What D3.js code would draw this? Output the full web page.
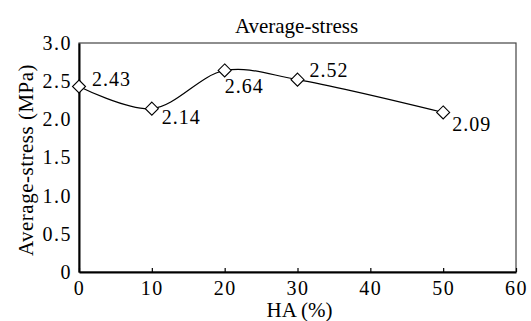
<!DOCTYPE html>
<html>
<head>
<meta charset="utf-8">
<script src="https://cdn.jsdelivr.net/npm/d3@7"></script>
<style>
  body { margin: 0; background: #fff; }
</style>
</head>
<body>
<div id="chart"></div>
<script>
var haValues = [0, 10, 20, 30, 50];
var stressValues = [2.43, 2.14, 2.64, 2.52, 2.09];
var xTicks = [0, 10, 20, 30, 40, 50, 60];
var yTicks = [0, 0.5, 1.0, 1.5, 2.0, 2.5, 3.0];
var yTickLabels = ["0", "0.5", "1.0", "1.5", "2.0", "2.5", "3.0"];
// where each value label sits relative to its point: [dx, dy]
var labelOffsets = [[13, -1], [10, 15], [0, 23], [12, -3], [9, 19]];

var width = 531;
var height = 321;
var margin = {top: 43, right: 15, bottom: 49, left: 79};
var serif = "'Liberation Serif', 'Times New Roman', Times, serif";

var svg = d3.select('#chart')
            .append('svg')
            .attr('width', width)
            .attr('height', height);

var x = d3.scaleLinear().domain([0, 60]).range([margin.left, width - margin.right]);
var y = d3.scaleLinear().domain([0, 3]).range([height - margin.bottom, margin.top]);

// frame (top and right)
svg.append('rect')
   .attr('x', x(0))
   .attr('y', y(3))
   .attr('width', x(60) - x(0))
   .attr('height', y(0) - y(3))
   .attr('fill', 'none')
   .attr('stroke', '#444')
   .attr('stroke-width', 1.2);

var xAxis = d3.axisBottom(x).tickValues(xTicks).tickSizeInner(-4).tickSizeOuter(0).tickPadding(9);
var gx = svg.append('g')
   .attr('transform', 'translate(0,' + y(0) + ')')
   .call(xAxis)
   .attr('font-family', serif)
   .attr('font-size', 20);
gx.select('.domain').attr('stroke-width', 2);
gx.selectAll('.tick line').attr('stroke-width', 1.2);
gx.selectAll('.tick text').attr('letter-spacing', 1.5);

var yAxis = d3.axisLeft(y).tickValues(yTicks)
              .tickFormat(function(d, i){ return yTickLabels[i]; })
              .tickSize(0).tickPadding(7);
var gy = svg.append('g')
   .attr('transform', 'translate(' + x(0) + ',0)')
   .call(yAxis)
   .attr('font-family', serif)
   .attr('font-size', 20);
gy.select('.domain').attr('stroke-width', 2);
gy.selectAll('.tick text').attr('letter-spacing', 1.5);

// smooth line
var points = haValues.map(function(d, i){ return [d, stressValues[i]]; });
var line = d3.line()
             .x(function(d){ return x(d[0]); })
             .y(function(d){ return y(d[1]); })
             .curve(d3.curveCatmullRom.alpha(0.5));

svg.append('path')
   .datum(points)
   .attr('d', line)
   .attr('fill', 'none')
   .attr('stroke', '#000')
   .attr('stroke-width', 1.2);

svg.selectAll('.marker')
   .data(points)
   .enter()
   .append('path')
   .attr('class', 'marker')
   .attr('transform', function(d){ return 'translate(' + x(d[0]) + ',' + y(d[1]) + ')'; })
   .attr('d', 'M0,-6.5L6.5,0L0,6.5L-6.5,0Z')
   .attr('fill', '#fff')
   .attr('stroke', '#000')
   .attr('stroke-width', 1.1);

svg.selectAll('.val')
   .data(points)
   .enter()
   .append('text')
   .attr('class', 'val')
   .attr('x', function(d, i){ return x(d[0]) + labelOffsets[i][0]; })
   .attr('y', function(d, i){ return y(d[1]) + labelOffsets[i][1]; })
   .attr('font-size', 20)
   .attr('letter-spacing', 1)
   .text(function(d){ return d3.format('.2f')(d[1]); });

// titles
svg.append('text')
   .attr('x', (x(0) + x(60)) / 2 - 1)
   .attr('y', 33)
   .attr('text-anchor', 'middle')
   .attr('font-size', 21)
   .text('Average-stress');

svg.append('text')
   .attr('x', (x(0) + x(60)) / 2 + 2)
   .attr('y', 317)
   .attr('text-anchor', 'middle')
   .attr('font-size', 21)
   .text('HA (%)');

svg.append('text')
   .attr('transform', 'translate(33,' + 160 + ') rotate(-90)')
   .attr('text-anchor', 'middle')
   .attr('font-size', 21)
   .attr('letter-spacing', 0.5)
   .text('Average-stress (MPa)');

svg.selectAll('text').style('font-family', serif).style('fill', '#000');
</script>
</body>
</html>
